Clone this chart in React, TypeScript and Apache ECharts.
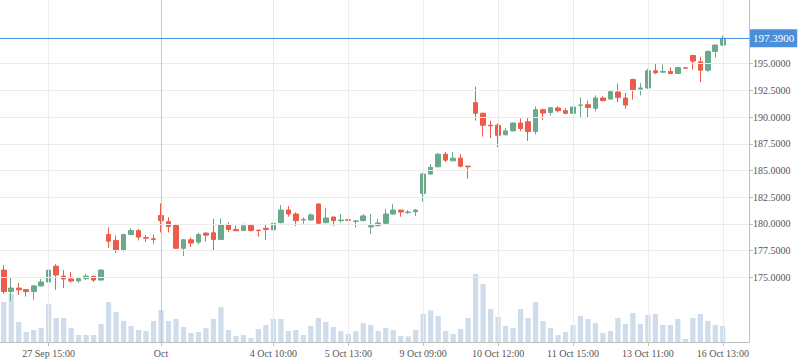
import React, { useEffect, useRef } from "react";
import * as echarts from "echarts";

const categories = [
  "27 Sep 09:00", "27 Sep 10:00", "27 Sep 11:00", "27 Sep 12:00", "27 Sep 13:00", "27 Sep 14:00", "27 Sep 15:00",
  "28 Sep 09:00", "28 Sep 10:00", "28 Sep 11:00", "28 Sep 12:00", "28 Sep 13:00", "28 Sep 14:00", "28 Sep 15:00",
  "29 Sep 09:00", "29 Sep 10:00", "29 Sep 11:00", "29 Sep 12:00", "29 Sep 13:00", "29 Sep 14:00", "29 Sep 15:00",
  "2 Oct 09:00", "2 Oct 10:00", "2 Oct 11:00", "2 Oct 12:00", "2 Oct 13:00", "2 Oct 14:00", "2 Oct 15:00",
  "3 Oct 09:00", "3 Oct 10:00", "3 Oct 11:00", "3 Oct 12:00", "3 Oct 13:00", "3 Oct 14:00", "3 Oct 15:00",
  "4 Oct 09:00", "4 Oct 10:00", "4 Oct 11:00", "4 Oct 12:00", "4 Oct 13:00", "4 Oct 14:00", "4 Oct 15:00",
  "5 Oct 09:00", "5 Oct 10:00", "5 Oct 11:00", "5 Oct 12:00", "5 Oct 13:00", "5 Oct 14:00", "5 Oct 15:00",
  "6 Oct 09:00", "6 Oct 10:00", "6 Oct 11:00", "6 Oct 12:00", "6 Oct 13:00", "6 Oct 14:00", "6 Oct 15:00",
  "9 Oct 09:00", "9 Oct 10:00", "9 Oct 11:00", "9 Oct 12:00", "9 Oct 13:00", "9 Oct 14:00", "9 Oct 15:00",
  "10 Oct 09:00", "10 Oct 10:00", "10 Oct 11:00", "10 Oct 12:00", "10 Oct 13:00", "10 Oct 14:00", "10 Oct 15:00",
  "11 Oct 09:00", "11 Oct 10:00", "11 Oct 11:00", "11 Oct 12:00", "11 Oct 13:00", "11 Oct 14:00", "11 Oct 15:00",
  "12 Oct 09:00", "12 Oct 10:00", "12 Oct 11:00", "12 Oct 12:00", "12 Oct 13:00", "12 Oct 14:00", "12 Oct 15:00",
  "13 Oct 09:00", "13 Oct 10:00", "13 Oct 11:00", "13 Oct 12:00", "13 Oct 13:00", "13 Oct 14:00", "13 Oct 15:00", "13 Oct 16:00",
  "16 Oct 09:00", "16 Oct 10:00", "16 Oct 11:00", "16 Oct 12:00", "16 Oct 13:00", "16 Oct 14:00", "16 Oct 15:00",
  "17 Oct 09:00",
];

const opens = [
  175.68, 173.67, 174.0, 173.86, 173.67, 174.2, 174.57, 176.05, 175.12, 174.85,
  174.66, 174.88, 175.09, 174.75, 179.01, 178.46, 177.53, 179.01, 179.38, 178.73,
  178.61, 180.78, 180.22, 179.85, 177.72, 178.52, 178.3, 179.14, 179.17, 178.55,
  179.94, 179.48, 179.38, 179.85, 179.42, 179.6, 179.44, 180.12, 181.3, 180.93,
  180.37, 180.37, 181.87, 180.12, 180.65, 180.31, 180.4, 180.22, 180.31, 179.72,
  179.84, 180.06, 180.93, 181.3, 181.06, 181.15, 182.86, 184.67, 185.35, 186.53,
  185.91, 186.16, 185.41, 191.35, 190.36, 189.24, 189.24, 188.34, 188.71, 189.44,
  189.56, 188.65, 190.69, 190.44, 190.85, 190.6, 190.35, 191.1, 191.16, 190.82,
  191.79, 191.69, 192.35, 191.79, 193.51, 192.63, 192.73, 194.33, 194.2, 194.27,
  194.08, 194.61, 195.77, 195.18, 194.39, 196.15, 196.74,
];
const closes = [
  173.67, 174.0, 173.83, 173.67, 174.2, 174.57, 175.68, 175.22, 174.85, 174.66,
  174.88, 175.12, 174.75, 175.68, 178.39, 177.53, 179.01, 179.38, 178.77, 178.67,
  178.55, 180.31, 179.75, 177.72, 178.52, 178.21, 179.01, 178.95, 178.55, 179.94,
  179.48, 179.36, 179.82, 179.38, 179.38, 179.47, 180.06, 181.3, 180.93, 180.31,
  180.43, 180.84, 180.06, 180.56, 180.31, 180.37, 180.34, 180.28, 180.75, 179.84,
  180.09, 180.93, 181.3, 181.12, 181.12, 181.3, 184.67, 185.29, 186.53, 185.97,
  186.16, 185.41, 185.35, 190.36, 189.24, 189.18, 188.3, 188.71, 189.44, 188.93,
  188.65, 190.69, 190.38, 190.88, 190.6, 190.35, 190.94, 191.13, 190.91, 191.79,
  191.54, 192.38, 191.85, 191.13, 192.57, 192.73, 194.33, 194.14, 194.27, 194.08,
  194.64, 194.58, 195.24, 194.39, 196.15, 196.74, 197.39,
];
const lows = [
  173.46, 172.8, 173.36, 173.2, 172.9, 174.14, 174.5, 173.83, 174.01, 174.5,
  174.5, 174.75, 174.57, 174.69, 177.75, 177.28, 177.38, 178.95, 178.46, 178.3,
  178.15, 179.2, 179.2, 177.69, 176.98, 177.84, 178.09, 178.36, 177.53, 178.52,
  179.23, 179.36, 179.35, 179.29, 178.8, 178.5, 179.38, 180.06, 180.68, 179.81,
  179.9, 180.31, 180.03, 180.06, 179.81, 180.12, 179.9, 179.66, 180.25, 179.07,
  179.78, 180.0, 180.87, 180.68, 180.93, 180.75, 182.08, 184.6, 185.29, 185.78,
  185.91, 185.29, 184.23, 189.67, 188.18, 188.05, 187.18, 188.31, 188.68, 188.68,
  187.77, 188.37, 189.75, 190.13, 190.44, 190.25, 190.31, 189.94, 189.94, 190.53,
  191.47, 191.63, 191.38, 190.78, 191.63, 192.04, 192.63, 194.02, 194.2, 194.02,
  194.02, 194.58, 194.45, 193.26, 194.24, 195.58, 196.65,
];
const highs = [
  176.14, 174.94, 174.48, 173.9, 174.3, 174.85, 176.23, 176.23, 175.68, 175.49,
  175.06, 175.31, 175.18, 175.77, 179.69, 178.92, 179.07, 179.6, 179.54, 178.98,
  179.01, 181.92, 180.62, 179.91, 178.58, 178.74, 179.17, 179.23, 180.47, 180.5,
  180.13, 179.85, 180.03, 179.94, 179.44, 180.0, 180.75, 181.77, 181.68, 181.09,
  180.62, 181.0, 181.93, 181.49, 180.65, 180.93, 180.4, 180.37, 180.93, 180.93,
  180.5, 181.4, 181.87, 181.3, 181.3, 181.4, 184.79, 185.6, 186.62, 186.75,
  186.75, 186.53, 185.41, 192.84, 190.42, 189.67, 189.42, 188.96, 189.5, 189.87,
  189.94, 191.0, 190.78, 190.94, 191.0, 190.85, 190.97, 191.85, 191.54, 192.04,
  191.94, 192.45, 193.14, 192.26, 193.61, 193.2, 194.52, 195.02, 194.93, 194.64,
  194.7, 194.61, 195.77, 195.65, 196.24, 196.81, 197.65,
];
const volumes = [
  1000, 1200, 500, 250, 300, 350, 950, 600, 600, 350,
  175, 175, 175, 450, 1000, 750, 525, 400, 300, 275,
  525, 800, 525, 575, 375, 225, 250, 350, 575, 875,
  300, 150, 175, 100, 325, 425, 575, 575, 275, 300,
  175, 400, 600, 500, 375, 275, 200, 275, 475, 425,
  275, 350, 300, 150, 140, 300, 700, 790, 650, 275,
  200, 325, 600, 1700, 1450, 825, 625, 400, 350, 825,
  600, 1000, 525, 350, 175, 250, 425, 650, 575, 475,
  225, 275, 600, 450, 725, 450, 675, 700, 425, 425,
  575, 75, 600, 700, 525, 425, 400,
];

const labelIndices = [6, 21, 36, 46, 56, 66, 76, 86, 96];
const monthStartIndex = 21;
const monthStartLabel = "Oct";
const priceTicks = [175, 177.5, 180, 182.5, 185, 187.5, 190, 192.5, 195];
const lastPrice = 197.39;
const priceMin = 168.95;
const priceMax = 200.96;
const volumeMax = 8550;

const UP = "#6aa98b";
const DOWN = "#eb5c4b";
const FONT = "'Liberation Serif', 'Times New Roman', serif";

export default function App() {
  const ref = useRef<HTMLDivElement>(null);

  useEffect(() => {
    if (!ref.current) return;
    const chart = echarts.init(ref.current, undefined, { renderer: "svg" });
    const candleData = opens.map((o, i) => [o, closes[i], lows[i], highs[i]]);
    const isLabel = (i: number) => labelIndices.indexOf(i) >= 0;

    chart.setOption({
      animation: false,
      grid: { left: 0, right: 49, top: 0, bottom: 21, containLabel: false, outerBoundsMode: "none" },
      xAxis: {
        type: "category",
        data: categories,
        boundaryGap: true,
        axisLine: { show: true, lineStyle: { color: "#bfbfbf", width: 1 } },
        axisTick: {
          show: true,
          alignWithLabel: true,
          interval: (i: number) => isLabel(i),
          length: 4,
          lineStyle: { color: "#bfbfbf" },
        },
        axisLabel: {
          interval: (i: number) => isLabel(i),
          formatter: (v: string, i: number) => (i === monthStartIndex ? monthStartLabel : v),
          color: "#555",
          fontSize: 10,
          fontFamily: FONT,
          margin: 6,
          hideOverlap: false,
        },
        splitLine: { show: false },
      },
      yAxis: [
        {
          type: "value",
          position: "right",
          min: priceMin,
          max: priceMax,
          axisLine: { show: true, lineStyle: { color: "#bfbfbf" } },
          axisTick: { show: true, length: 4, customValues: priceTicks, lineStyle: { color: "#bfbfbf" } },
          axisLabel: {
            customValues: priceTicks,
            formatter: (v: number) => v.toFixed(4),
            color: "#555",
            fontSize: 10,
            fontFamily: FONT,
            margin: 4,
          },
          splitLine: { show: false },
        },
        {
          type: "value",
          min: 0,
          max: volumeMax,
          show: false,
          splitLine: { show: false },
        },
      ],
      series: [
        {
          type: "line",
          data: [],
          z: 0,
          silent: true,
          markLine: {
            silent: true,
            symbol: ["none", "none"],
            label: { show: false },
            emphasis: { disabled: true },
            lineStyle: { color: "#ececec", width: 1, type: "solid" },
            data: [
              ...priceTicks.map((v) => ({ yAxis: v })),
              ...labelIndices.map((i) => ({
                xAxis: categories[i],
                lineStyle: { color: i === monthStartIndex ? "#c8c8c8" : "#ececec", width: 1, type: "solid" },
              })),
            ],
          },
        },
        {
          type: "bar",
          yAxisIndex: 1,
          data: volumes,
          barWidth: "70%",
          z: 1,
          silent: true,
          itemStyle: { color: "#cfdcec" },
        },
        {
          type: "candlestick",
          data: candleData,
          barWidth: "68%",
          z: 3,
          itemStyle: {
            color: UP,
            color0: DOWN,
            borderColor: UP,
            borderColor0: DOWN,
            borderWidth: 1,
          },
          markLine: {
            silent: true,
            symbol: ["none", "none"],
            emphasis: { disabled: true },
            lineStyle: { color: "#4a8fd9", width: 1, type: "solid" },
            label: {
              show: true,
              position: "end",
              distance: 1,
              formatter: () => lastPrice.toFixed(4),
              color: "#fff",
              backgroundColor: "#4a8fd9",
              padding: [4, 3, 3, 3],
              fontSize: 11,
              fontFamily: FONT,
            },
            data: [{ yAxis: lastPrice }],
          },
        },
      ],
    });

    return () => chart.dispose();
  }, []);

  return (
    <div
      ref={ref}
      style={{ position: "fixed", left: 0, top: 0, width: 798, height: 363, background: "#fff" }}
    />
  );
}
